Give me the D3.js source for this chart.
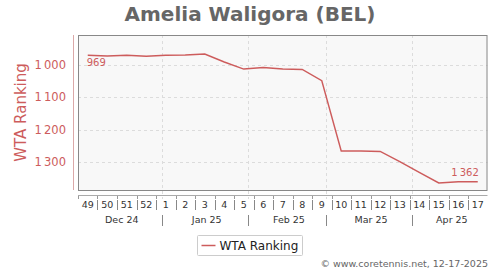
<!DOCTYPE html>
<html>
<head>
<meta charset="utf-8">
<script src="https://cdn.jsdelivr.net/npm/d3@7"></script>
<style>
  body { margin: 0; background: #fff; }
  svg { display: block; font-family: "DejaVu Sans", sans-serif; }
</style>
</head>
<body>
<svg width="500" height="270"></svg>
<script>
// week numbers shown on the axis, 49/2024 .. 17/2025
var weeks = [49, 50, 51, 52, 1, 2, 3, 4, 5, 6, 7, 8, 9, 10, 11, 12, 13, 14, 15, 16, 17];
// WTA ranking per week
var ranking = [969, 971, 969, 972, 969, 968, 965, 990, 1012, 1007, 1012, 1013, 1048, 1267, 1267, 1268, 1300, 1333, 1366, 1362, 1362];
var yTicks = [1000, 1100, 1200, 1300];
var months = ["Dec 24", "Jan 25", "Feb 25", "Mar 25", "Apr 25"];
var firstMonday = new Date(Date.UTC(2024, 11, 2));

var svg = d3.select("svg"),
    width = +svg.attr("width"),
    height = +svg.attr("height");

var red = "#cd5c5c";
var plotL = 78, plotR = 487.5, plotT = 35, plotB = 190;

var weekStart = weeks.map(function(w, i) { return d3.utcDay.offset(firstMonday, 7 * i); });
var lastDay = d3.utcDay.offset(firstMonday, 7 * weeks.length);

var x = d3.scaleUtc()
    .domain([firstMonday, lastDay])
    .range([plotL, plotR]);

var y = d3.scaleLinear()
    .domain([906, 1388])
    .range([plotT, plotB]);

var fmt = d3.formatLocale({ decimal: ".", thousands: "\u2009", grouping: [3], currency: ["", ""] }).format(",");

function mid(d) { return d3.utcHour.offset(d, 84); }

// plot background
svg.append("rect")
    .attr("x", plotL).attr("y", plotT)
    .attr("width", plotR - plotL).attr("height", plotB - plotT)
    .attr("fill", "#f8f8f8");

// month boundaries
var monthStarts = d3.utcMonth.range(d3.utcMonth.ceil(firstMonday), lastDay);

// grid
svg.append("g").selectAll("line")
    .data(yTicks)
    .enter().append("line")
    .attr("x1", plotL).attr("x2", plotR)
    .attr("y1", function(d) { return Math.round(y(d)) + 0.5; })
    .attr("y2", function(d) { return Math.round(y(d)) + 0.5; })
    .attr("stroke", "#dcdcdc")
    .attr("stroke-dasharray", "3,3");

svg.append("g").selectAll("line")
    .data(monthStarts)
    .enter().append("line")
    .attr("x1", function(d) { return Math.round(x(d)) + 0.5; })
    .attr("x2", function(d) { return Math.round(x(d)) + 0.5; })
    .attr("y1", plotT).attr("y2", 199)
    .attr("stroke", "#dcdcdc")
    .attr("stroke-dasharray", "3,3");

// plot frame
svg.append("rect")
    .attr("x", plotL + 0.5).attr("y", plotT + 0.5)
    .attr("width", plotR - plotL - 1).attr("height", plotB - plotT)
    .attr("fill", "none")
    .attr("stroke", "#888");

// y axis
svg.append("line")
    .attr("x1", 73.5).attr("x2", 73.5)
    .attr("y1", plotT).attr("y2", plotB)
    .attr("stroke", "#dba8a8");

svg.append("g").selectAll("text")
    .data(yTicks)
    .enter().append("text")
    .attr("x", 66)
    .attr("y", function(d) { return y(d) + 4; })
    .attr("text-anchor", "end")
    .attr("fill", red)
    .attr("font-size", "11.5px")
    .text(function(d) { return fmt(d); });

svg.append("text")
    .attr("transform", "translate(26," + ((plotT + plotB) / 2) + ") rotate(-90)")
    .attr("text-anchor", "middle")
    .attr("fill", red)
    .attr("font-size", "15px")
    .text("WTA Ranking");

// x axis line and week ticks
svg.append("line")
    .attr("x1", plotL).attr("x2", plotR)
    .attr("y1", 195.5).attr("y2", 195.5)
    .attr("stroke", "#aaa");

svg.append("g").selectAll("line")
    .data(weekStart)
    .enter().append("line")
    .attr("x1", function(d) { return Math.round(x(d)) + 0.5; })
    .attr("x2", function(d) { return Math.round(x(d)) + 0.5; })
    .attr("y1", 196).attr("y2", 199)
    .attr("stroke", "#999");

// week labels with separators
svg.append("g").selectAll("text")
    .data(weeks)
    .enter().append("text")
    .attr("x", function(d, i) { return x(mid(weekStart[i])); })
    .attr("y", 208)
    .attr("text-anchor", "middle")
    .attr("fill", "#333")
    .attr("font-size", "9.5px")
    .text(function(d) { return d; });

svg.append("g").selectAll("line")
    .data(weekStart.slice(1))
    .enter().append("line")
    .attr("x1", function(d) { return Math.round(x(d)) + 0.5; })
    .attr("x2", function(d) { return Math.round(x(d)) + 0.5; })
    .attr("y1", 200).attr("y2", 210)
    .attr("stroke", "#888");

// month labels with separators
var monthEdges = [firstMonday].concat(monthStarts, [lastDay]);
svg.append("g").selectAll("text")
    .data(months)
    .enter().append("text")
    .attr("x", function(d, i) { return (x(monthEdges[i]) + x(monthEdges[i + 1])) / 2 + 2; })
    .attr("y", 223)
    .attr("text-anchor", "middle")
    .attr("fill", "#333")
    .attr("font-size", "9.5px")
    .text(function(d) { return d; });

svg.append("g").selectAll("line")
    .data(monthStarts)
    .enter().append("line")
    .attr("x1", function(d) { return Math.round(x(d)) + 0.5; })
    .attr("x2", function(d) { return Math.round(x(d)) + 0.5; })
    .attr("y1", 215).attr("y2", 226)
    .attr("stroke", "#888");

// ranking line
var line = d3.line()
    .x(function(d, i) { return x(mid(weekStart[i])); })
    .y(function(d) { return y(d); });

svg.append("path")
    .datum(ranking)
    .attr("fill", "none")
    .attr("stroke", red)
    .attr("stroke-width", 1.5)
    .attr("d", line);

// first and last value labels
var n = ranking.length;
svg.append("text")
    .attr("x", x(mid(weekStart[0])) - 1)
    .attr("y", y(ranking[0]) + 11)
    .attr("fill", red)
    .attr("font-size", "10px")
    .text(fmt(ranking[0]));

svg.append("text")
    .attr("x", x(mid(weekStart[n - 1])) + 1)
    .attr("y", y(ranking[n - 1]) - 6)
    .attr("text-anchor", "end")
    .attr("fill", red)
    .attr("font-size", "10px")
    .text(fmt(ranking[n - 1]));

// title
svg.append("text")
    .attr("x", width / 2)
    .attr("y", 21)
    .attr("text-anchor", "middle")
    .attr("fill", "#666")
    .attr("font-size", "20px")
    .attr("font-weight", "bold")
    .text("Amelia Waligora (BEL)");

// legend
var lg = svg.append("g").attr("transform", "translate(197.5,235.5)");
lg.append("rect")
    .attr("width", 105).attr("height", 20)
    .attr("rx", 1)
    .attr("fill", "#fff")
    .attr("stroke", "#ccc");
lg.append("line")
    .attr("x1", 4).attr("x2", 18)
    .attr("y1", 10).attr("y2", 10)
    .attr("stroke", red)
    .attr("stroke-width", 1.5);
lg.append("text")
    .attr("x", 22).attr("y", 14.5)
    .attr("fill", "#222")
    .attr("font-size", "12px")
    .text("WTA Ranking");

// credit
svg.append("text")
    .attr("x", 488)
    .attr("y", 267)
    .attr("text-anchor", "end")
    .attr("fill", "#666")
    .attr("font-size", "9.5px")
    .text("\u00a9 www.coretennis.net, 12-17-2025");
</script>
</body>
</html>
